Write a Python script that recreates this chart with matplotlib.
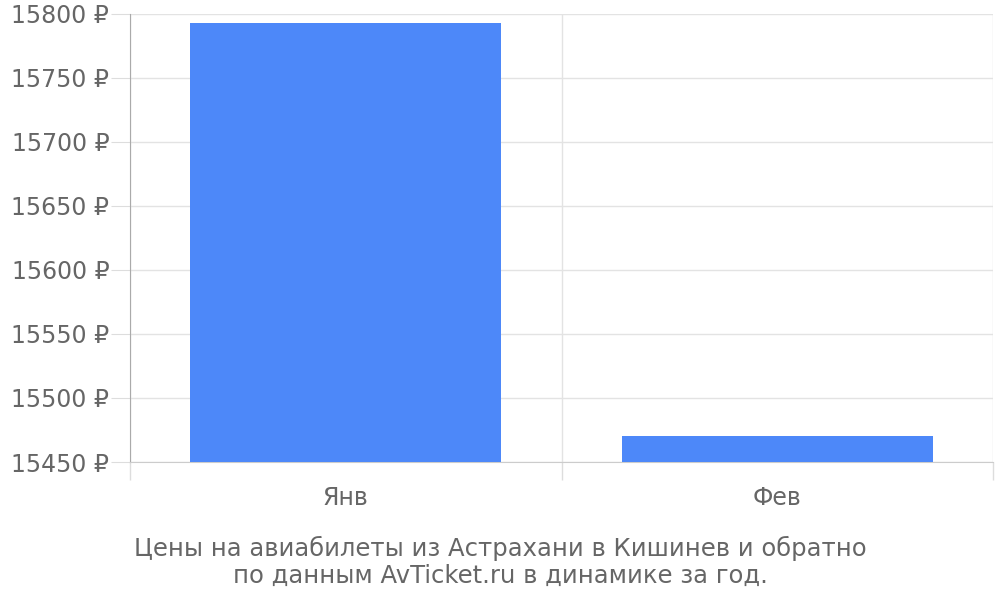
# цены на авиабилеты Астрахань - Кишинев
import matplotlib.pyplot as plt
import numpy as np

months = ['Янв', 'Фев']
prices = [15793, 15470]
yticks = np.arange(15450, 15801, 50)

grey = '#666666'
fig = plt.figure(figsize=(10, 6), dpi=100)
ax = fig.add_axes([0.13, 0.23, 0.863, 0.7467])

x = np.arange(len(months))
ax.bar(x, prices, width=0.72, color='#4d88f9', zorder=3)

ax.set_xlim(-0.5, len(months) - 0.5)
ax.set_ylim(15450, 15800)

ax.set_yticks(yticks)
ax.set_yticklabels([f'{v} ₽' for v in yticks])
ax.tick_params(axis='y', length=14, color='#dddddd', pad=1, labelsize=17, labelcolor=grey)

ax.set_xticks(x)
ax.set_xticklabels(months)
ax.tick_params(axis='x', which='major', length=0, pad=17, labelsize=17, labelcolor=grey)
ax.set_xticks(np.arange(len(months) + 1) - 0.5, minor=True)
ax.tick_params(axis='x', which='minor', length=13, color='#dddddd', width=1)
ax.xaxis.get_minor_ticks()[0].tick1line.set_color('#aaaaaa')

ax.grid(axis='y', color='#e3e3e3', lw=1, zorder=0)
ax.grid(axis='x', which='minor', color='#e3e3e3', lw=1, zorder=0)

for s in ['top', 'right']:
    ax.spines[s].set_visible(False)
ax.spines['left'].set_color('#aaaaaa')
ax.spines['bottom'].set_color('#cccccc')

fig.text(0.5, 0.063, 'Цены на авиабилеты из Астрахани в Кишинев и обратно\nпо данным AvTicket.ru в динамике за год.',
         ha='center', va='center', fontsize=17.5, color=grey, linespacing=1.15)

plt.savefig('out.png')
